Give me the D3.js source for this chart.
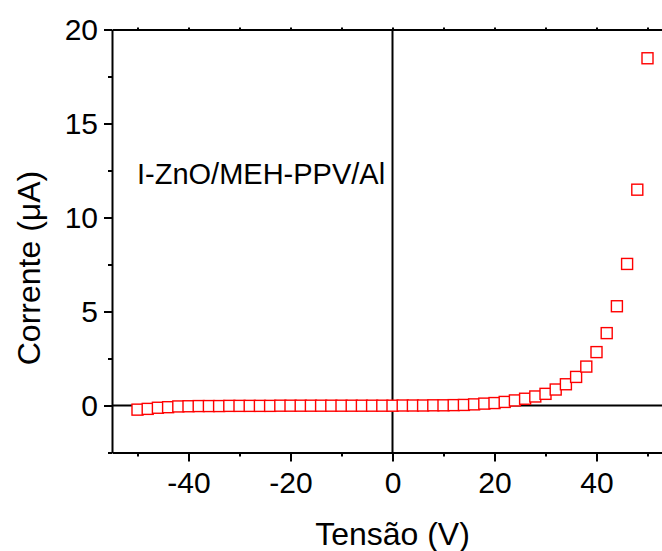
<!DOCTYPE html>
<html>
<head>
<meta charset="utf-8">
<script src="https://cdn.jsdelivr.net/npm/d3@7"></script>
<style>
  body { margin: 0; background: #fff; }
  svg { display: block; }
  text { font-family: "Liberation Sans", Arial, Helvetica, sans-serif; fill: #000; }
</style>
</head>
<body>
<div id="chart"></div>
<script>
// Data (voltage in V, current in µA)
const voltages = [-50, -48, -46, -44, -42, -40, -38, -36, -34, -32, -30, -28, -26, -24, -22, -20, -18, -16, -14, -12, -10, -8, -6, -4, -2,
    0, 2, 4, 6, 8, 10, 12, 14, 16, 18, 20, 22, 24, 26, 28, 30, 32, 34, 36, 38, 40, 42, 44, 46, 48, 50];
const currents = [-0.22, -0.18, -0.12, -0.09, -0.05, -0.04, -0.03, -0.03, -0.03, -0.02, -0.02, -0.02, -0.02, -0.02, -0.01, -0.01, -0.01, -0.01, -0.01, -0.01, -0.01, -0.01, -0.01, -0.01, -0.01,
    -0.01, 0, 0, 0, 0.01, 0.01, 0.02, 0.03, 0.06, 0.10, 0.13, 0.19, 0.27, 0.36, 0.48, 0.62, 0.85, 1.13, 1.52, 2.07, 2.84, 3.85, 5.28, 7.53, 11.48, 18.47];

const xMajorTicks = [-40, -20, 0, 20, 40];
const xMinorTicks = [-50, -30, -10, 10, 30, 50];
const yMajorTicks = [0, 5, 10, 15, 20];
const yMinorTicks = [-2.5, 2.5, 7.5, 12.5, 17.5];
const xLabel = "Tensão (V)";
const yLabel = "Corrente (μA)";
const sampleLabel = "I-ZnO/MEH-PPV/Al";

const data = voltages.map((v, i) => ({ v: v, i: currents[i] }));

const W = 662, H = 551;
const svg = d3.select("#chart").append("svg")
    .attr("width", W)
    .attr("height", H);

// Scales (right part of the frame runs past the window edge, as in the original)
const x = d3.scaleLinear().domain([-55, 55]).range([112, 673]);
const y = d3.scaleLinear().domain([-2.5, 20]).range([452.5, 29.5]);

// plain hyphen for negative labels
const fmt = d => String(d);

// Zero lines
svg.append("line")
    .attr("x1", x(0)).attr("x2", x(0))
    .attr("y1", y(20)).attr("y2", y(-2.5))
    .attr("stroke", "#000").attr("stroke-width", 2);
svg.append("line")
    .attr("x1", x(-55)).attr("x2", x(55))
    .attr("y1", y(0)).attr("y2", y(0))
    .attr("stroke", "#000").attr("stroke-width", 2);

// Bottom axis
const gx = svg.append("g").attr("transform", `translate(0,${y(-2.5)})`);
gx.call(d3.axisBottom(x).tickValues(xMajorTicks).tickFormat(fmt).tickSize(9).tickSizeOuter(0).tickPadding(9));
gx.append("g").call(d3.axisBottom(x).tickValues(xMinorTicks).tickSize(4).tickSizeOuter(0).tickFormat(""))
    .select(".domain").remove();

// Left axis
const gy = svg.append("g").attr("transform", `translate(${x(-55)},0)`);
gy.call(d3.axisLeft(y).tickValues(yMajorTicks).tickFormat(fmt).tickSize(8).tickSizeOuter(0).tickPadding(6));
gy.append("g").call(d3.axisLeft(y).tickValues(yMinorTicks).tickSize(4).tickSizeOuter(0).tickFormat(""))
    .select(".domain").remove();

// Top frame line with tiny ticks
const gt = svg.append("g").attr("transform", `translate(0,${y(20)})`);
gt.call(d3.axisTop(x).tickValues(xMajorTicks.concat(xMinorTicks)).tickSize(2).tickSizeOuter(0).tickFormat(""));

svg.selectAll(".domain").attr("stroke-width", 2);
svg.selectAll(".tick line").attr("stroke-width", 2);
svg.selectAll(".tick text")
    .style("font-family", "'Liberation Sans', Arial, sans-serif")
    .style("font-size", "30px")
    .attr("fill", "#000");
gx.selectAll(".tick text").attr("dy", "0.74em");

// Axis titles
svg.append("text")
    .attr("x", x(0))
    .attr("y", 545)
    .attr("text-anchor", "middle")
    .style("font-size", "32px")
    .text(xLabel);

svg.append("text")
    .attr("transform", "translate(39.5,268) rotate(-90)")
    .attr("text-anchor", "middle")
    .style("font-size", "32px")
    .text(yLabel);

// Sample label
svg.append("text")
    .attr("x", 137)
    .attr("y", 184)
    .style("font-size", "29px")
    .text(sampleLabel);

// Data points: open red squares
const s = 11;
svg.append("g").selectAll("rect")
    .data(data)
    .enter()
    .append("rect")
    .attr("x", d => x(d.v) - s / 2)
    .attr("y", d => y(d.i) - s / 2)
    .attr("width", s)
    .attr("height", s)
    .attr("fill", "#fff")
    .attr("stroke", "#ff0000")
    .attr("stroke-width", 1.4);
</script>
</body>
</html>
